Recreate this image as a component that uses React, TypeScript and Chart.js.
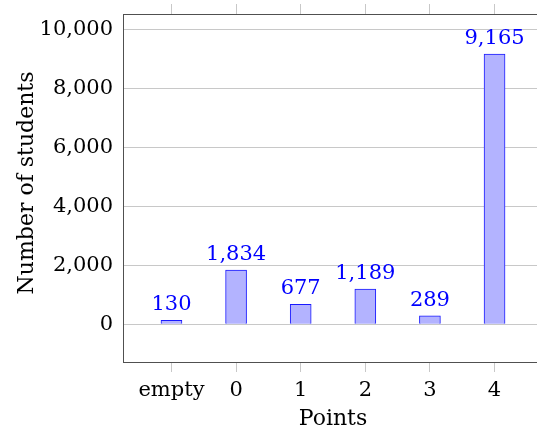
import React, { useEffect, useRef } from "react";
import { Chart, registerables } from "chart.js";

Chart.register(...registerables);

const categories = ["empty", "0", "1", "2", "3", "4"];
const students = [130, 1834, 677, 1189, 289, 9165];
const yTickValues = [0, 2000, 4000, 6000, 8000, 10000];
const xTickValues = [0, 1, 2, 3, 4, 5];
const yTitle = "Number of students";

const FONT = "'DejaVu Serif', serif";
const FS = 21;
const TFS = 22;
const GRID = "#c8c8c8";
const AXIS = "#505050";

const fmt = (v: number) => (Math.abs(v) < 1e-9 ? "0" : Math.round(v).toLocaleString("en-US"));

const labelPlugin = {
  id: "barLabels",
  afterDatasetsDraw(chart: any) {
    const ctx = chart.ctx;
    const meta = chart.getDatasetMeta(0);
    ctx.save();
    ctx.font = `${FS}px ${FONT}`;
    ctx.fillStyle = "#0000ff";
    ctx.textAlign = "center";
    ctx.textBaseline = "alphabetic";
    meta.data.forEach((el: any, i: number) => {
      ctx.fillText(fmt(students[i]), el.x, el.y - 10);
    });
    ctx.restore();
  },
  afterDraw(chart: any) {
    const ctx = chart.ctx;
    const area = chart.chartArea;
    ctx.save();
    ctx.font = `${TFS}px ${FONT}`;
    ctx.fillStyle = "#000";
    ctx.textAlign = "center";
    ctx.textBaseline = "alphabetic";
    ctx.translate(33, (area.top + area.bottom) / 2 - 5);
    ctx.rotate(-Math.PI / 2);
    ctx.fillText(yTitle, 0, 0);
    ctx.restore();
  },
};

export default function App() {
  const ref = useRef<HTMLCanvasElement | null>(null);
  useEffect(() => {
    if (!ref.current) return;
    const chart = new Chart(ref.current, {
      type: "bar",
      data: {
        datasets: [
          {
            data: students.map((v, i) => ({ x: i, y: v })),
            backgroundColor: "rgb(179,179,255)",
            borderColor: "#1a1aff",
            borderWidth: 1,
            barThickness: 21,
            xAxisID: "x",
            yAxisID: "y",
          },
        ],
      },
      options: {
        animation: false,
        responsive: false,
        maintainAspectRatio: false,
        layout: { padding: { left: 0, right: 57, top: 0, bottom: 0 } },
        plugins: { legend: { display: false }, tooltip: { enabled: false } },
        scales: {
          x: {
            type: "linear",
            position: "bottom",
            offset: false,
            min: -0.75,
            max: 5.75,
            afterBuildTicks: (s: any) => {
              s.ticks = xTickValues.map((v) => ({ value: v }));
            },
            afterFit: (s: any) => {
              s.height = 68;
              s.paddingLeft = 0;
              s.paddingRight = 0;
            },
            ticks: {
              autoSkip: false,
              maxRotation: 0,
              padding: 6,
              color: "#000",
              font: { family: FONT, size: FS },
              callback: (v: any) => categories[Math.round(Number(v))] ?? "",
            },
            grid: { offset: false, drawOnChartArea: false, color: GRID, tickLength: 10 },
            border: { display: true, color: AXIS, width: 1 },
            title: {
              display: true,
              text: "Points",
              color: "#000",
              font: { family: FONT, size: TFS, lineHeight: 1 },
              padding: { top: 0, bottom: 0 },
            },
          },
          x2: {
            type: "linear",
            position: "top",
            offset: false,
            min: -0.75,
            max: 5.75,
            afterBuildTicks: (s: any) => {
              s.ticks = xTickValues.map((v) => ({ value: v }));
            },
            afterFit: (s: any) => {
              s.height = 14;
              s.paddingLeft = 0;
              s.paddingRight = 0;
            },
            ticks: { display: false },
            grid: { offset: false, drawOnChartArea: false, color: GRID, tickLength: 10 },
            border: { display: true, color: AXIS, width: 1 },
          },
          y: {
            type: "linear",
            position: "left",
            min: -1280,
            max: 10520,
            afterBuildTicks: (s: any) => {
              s.ticks = yTickValues.map((v) => ({ value: v }));
            },
            afterFit: (s: any) => {
              s.width = 123;
              s.paddingTop = 0;
              s.paddingBottom = 0;
            },
            ticks: {
              padding: 10,
              color: "#000",
              font: { family: FONT, size: FS },
              callback: (v: any) => fmt(Number(v)),
            },
            grid: { color: GRID, drawTicks: false, tickLength: 0 },
            border: { display: true, color: AXIS, width: 1 },
            title: { display: false },
          },
        },
      },
      plugins: [labelPlugin],
    });
    return () => chart.destroy();
  }, []);
  return (
    <div style={{ position: "absolute", left: 0, top: 0, width: 537, height: 430, overflow: "hidden", background: "#fff" }}>
      <canvas ref={ref} width={600} height={430} style={{ position: "absolute", left: 0, top: 0 }} />
    </div>
  );
}
